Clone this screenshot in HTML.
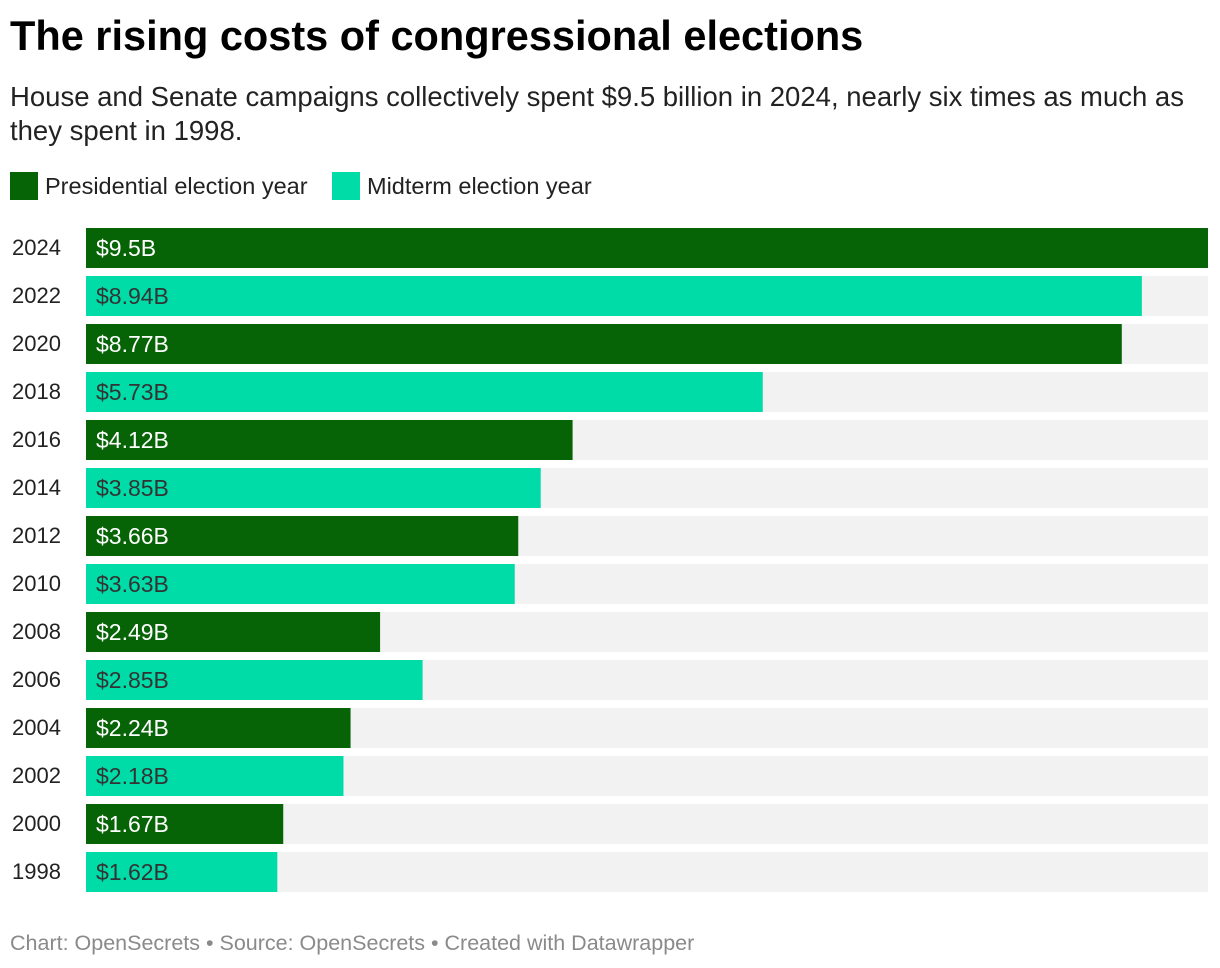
<!DOCTYPE html>
<html><head><meta charset="utf-8">
<style>
body{margin:0;width:1220px;height:968px;background:#fff;font-family:"Liberation Sans",sans-serif;position:relative;overflow:hidden}
#title{position:absolute;left:10px;top:12px;font-size:41.5px;font-weight:bold;color:#000;margin:0}
#sub{position:absolute;left:10px;top:80px;width:1215px;font-size:27.5px;line-height:34px;color:#222;white-space:nowrap}
.leg{position:absolute;top:172px;height:28px;display:flex;align-items:center;font-size:23.5px;color:#222}
.sw{width:28px;height:28px;margin-right:7px}
#foot{position:absolute;left:10px;top:931px;font-size:21.5px;color:#8a8a8a}
</style></head><body>
<h1 id="title">The rising costs of congressional elections</h1>
<div id="sub">House and Senate campaigns collectively spent $9.5 billion in 2024, nearly six times as much as<br>they spent in 1998.</div>
<div class="leg" style="left:10px"><div class="sw" style="background:#066406"></div>Presidential election year</div>
<div class="leg" style="left:332px"><div class="sw" style="background:#00dca8"></div>Midterm election year</div>
<svg id="chart" width="1220" height="968" style="position:absolute;left:0;top:0"></svg>
<div id="foot">Chart: OpenSecrets • Source: OpenSecrets • Created with Datawrapper</div>
<script>
const years=["2024","2022","2020","2018","2016","2014","2012","2010","2008","2006","2004","2002","2000","1998"];
const values=[9.5,8.94,8.77,5.73,4.12,3.85,3.66,3.63,2.49,2.85,2.24,2.18,1.67,1.62];
const labels=["$9.5B","$8.94B","$8.77B","$5.73B","$4.12B","$3.85B","$3.66B","$3.63B","$2.49B","$2.85B","$2.24B","$2.18B","$1.67B","$1.62B"];
const presidential=[true,false,true,false,true,false,true,false,true,false,true,false,true,false];
const svg=document.getElementById('chart');const NS='http://www.w3.org/2000/svg';
const x0=86,x1=1208,maxV=9.5;
const xs=v=>x0+(x1-x0)*v/maxV;
const ys=i=>228+i*48;
function mk(t,a){const e=document.createElementNS(NS,t);for(const k in a)e.setAttribute(k,a[k]);svg.appendChild(e);return e;}
years.forEach((y,i)=>{
 const bg=mk('rect',{x:x0,y:ys(i),width:x1-x0,height:40,fill:'#f2f2f2'});
 
 
 const b=mk('rect',{x:x0,y:ys(i),width:xs(values[i])-x0,height:40,fill:presidential[i]?'#066406':'#00dca8'});
 
 
 const yl=mk('text',{x:12,y:ys(i)+27,'font-size':22,fill:'#222'});yl.textContent=y;
 
 
 const vl=mk('text',{x:96,y:ys(i)+28,'font-size':23,fill:presidential[i]?'#fff':'#333'});vl.textContent=labels[i];
 
 
});
</script>
</body></html>
